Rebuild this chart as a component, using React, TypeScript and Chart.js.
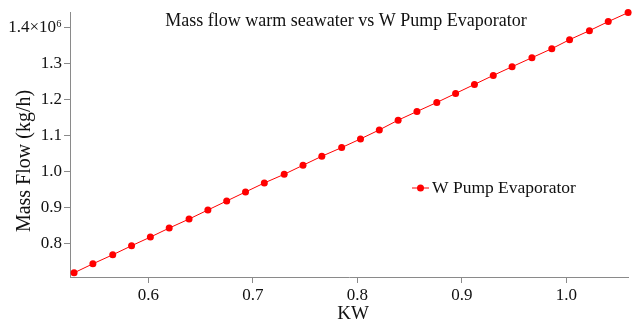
import React, { useEffect, useRef } from "react";
import { Chart, registerables } from "chart.js";

Chart.register(...registerables);

const TITLE = "Mass flow warm seawater vs W Pump Evaporator";
const SERIES_LABEL = "W Pump Evaporator";
const X_TITLE = "KW";
const Y_TITLE = "Mass Flow (kg/h)";

const kw: number[] = [
  0.529, 0.547, 0.566, 0.584, 0.602, 0.620, 0.639, 0.657, 0.675, 0.693,
  0.711, 0.730, 0.748, 0.766, 0.785, 0.803, 0.821, 0.839, 0.857, 0.876,
  0.894, 0.912, 0.930, 0.948, 0.967, 0.986, 1.003, 1.022, 1.040, 1.059,
];
const massFlow: number[] = [
  0.720, 0.745, 0.770, 0.795, 0.819, 0.844, 0.869, 0.894, 0.919, 0.944,
  0.969, 0.993, 1.018, 1.043, 1.067, 1.091, 1.116, 1.143, 1.167, 1.192,
  1.217, 1.242, 1.267, 1.291, 1.316, 1.341, 1.366, 1.391, 1.416, 1.441,
];
const xTicks: number[] = [0.6, 0.7, 0.8, 0.9, 1.0];
const yTicks: number[] = [0.8, 0.9, 1.0, 1.1, 1.2, 1.3, 1.4];

const FONT = "'Liberation Serif', 'Times New Roman', serif";
const RED = "#ff0000";
const AXIS = "#8a8a8a";

export default function App() {
  const ref = useRef<HTMLCanvasElement | null>(null);
  useEffect(() => {
    if (!ref.current) return;
    const overlay = {
      id: "overlay",
      afterDraw(chart: any) {
        const { ctx, chartArea } = chart;
        ctx.save();
        ctx.fillStyle = "#111";
        ctx.font = `18px ${FONT}`;
        ctx.textAlign = "center";
        ctx.textBaseline = "middle";
        ctx.fillText(TITLE, (chartArea.left + chartArea.right) / 2 - 3, 21);
        // axis titles
        ctx.font = `19px ${FONT}`;
        ctx.fillText(X_TITLE, 353, 314);
        ctx.save();
        ctx.translate(25, 161);
        ctx.rotate(-Math.PI / 2);
        ctx.font = `20px ${FONT}`;
        ctx.fillText(Y_TITLE, 0, 0);
        ctx.restore();
        // legend
        const ly = 188;
        ctx.strokeStyle = RED;
        ctx.lineWidth = 1;
        ctx.beginPath();
        ctx.moveTo(412, ly);
        ctx.lineTo(429, ly);
        ctx.stroke();
        ctx.fillStyle = RED;
        ctx.beginPath();
        ctx.arc(420.5, ly, 3.5, 0, Math.PI * 2);
        ctx.fill();
        ctx.fillStyle = "#111";
        ctx.textAlign = "left";
        ctx.font = `17.5px ${FONT}`;
        ctx.fillText(SERIES_LABEL, 432, ly);
        ctx.restore();
      },
    };
    const chart = new Chart(ref.current, {
      type: "line",
      data: {
        datasets: [
          {
            label: SERIES_LABEL,
            data: kw.map((x, i) => ({ x, y: massFlow[i] })),
            borderColor: RED,
            backgroundColor: RED,
            borderWidth: 1,
            pointRadius: 3.5,
            pointBorderWidth: 0,
            pointBackgroundColor: RED,
            tension: 0,
            clip: false,
          },
        ],
      },
      options: {
        animation: false,
        responsive: false,
        maintainAspectRatio: false,
        layout: { padding: { left: 0, top: 7, right: 8, bottom: 0 } },
        plugins: { legend: { display: false }, title: { display: false }, tooltip: { enabled: false } },
        scales: {
          x: {
            type: "linear",
            min: 0.5251,
            max: 1.0589,
            afterBuildTicks: (s: any) => {
              s.ticks = xTicks.map((v) => ({ value: v }));
            },
            afterFit: (s: any) => {
              s.height = 49;
            },
            border: { display: true, color: AXIS, width: 1 },
            grid: { drawOnChartArea: false, drawTicks: true, tickLength: 6, color: AXIS },
            ticks: {
              color: "#111",
              font: { family: FONT, size: 17 },
              padding: 2,
              maxRotation: 0,
              autoSkip: false,
              callback: (v: any) => Number(v).toFixed(1),
            },
            title: { display: false },
          },
          y: {
            type: "linear",
            min: 0.7084,
            max: 1.4421,
            afterBuildTicks: (s: any) => {
              s.ticks = yTicks.map((v) => ({ value: v }));
            },
            afterFit: (s: any) => {
              s.width = 70;
            },
            border: { display: true, color: AXIS, width: 1 },
            grid: { drawOnChartArea: false, drawTicks: true, tickLength: 6, color: AXIS },
            ticks: {
              color: "#111",
              font: { family: FONT, size: 17 },
              padding: 2,
              autoSkip: false,
              callback: (v: any) => {
                const n = Number(v);
                return Math.abs(n - 1.4) < 1e-9 ? "1.4×10⁶" : n.toFixed(1);
              },
            },
            title: { display: false },
          },
        },
      },
      plugins: [overlay],
    } as any);
    return () => chart.destroy();
  }, []);
  return (
    <div style={{ position: "fixed", left: 0, top: 0, width: 636, height: 326, background: "#fff" }}>
      <canvas ref={ref} width={636} height={326} style={{ display: "block" }} />
    </div>
  );
}
